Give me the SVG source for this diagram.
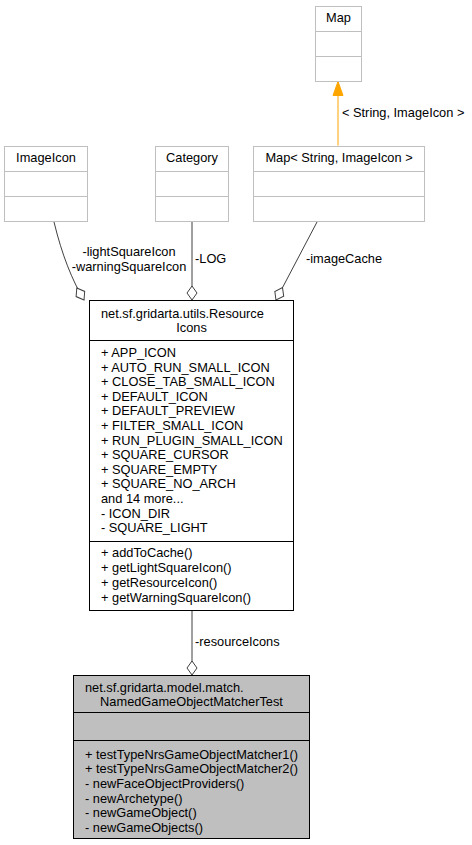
<svg xmlns="http://www.w3.org/2000/svg" width="472" height="845" viewBox="0 0 472 845">
<style>
text{font-family:"Liberation Sans",Arial,sans-serif;font-size:12.8px;fill:#000}
.ext{fill:#fff;stroke:#bfbfbf;stroke-width:1}
.cls{fill:#fff;stroke:#000;stroke-width:1}
.cur{fill:#bfbfbf;stroke:#000;stroke-width:1}
.edge{fill:none;stroke:#404040;stroke-width:1}
.inh{fill:none;stroke:#ffa500;stroke-width:1}
.c{text-anchor:middle}
</style>
<defs>
<marker id="diamond" markerUnits="userSpaceOnUse" markerWidth="16" markerHeight="12" refX="14" refY="5" orient="auto" viewBox="-1 -1 16 12">
<polygon points="0,5 7,0 14,5 7,10" fill="#fff" stroke="#404040" stroke-width="1"/>
</marker>
<marker id="tri" markerUnits="userSpaceOnUse" markerWidth="16" markerHeight="12" refX="14" refY="5" orient="auto" viewBox="-1 -1 16 12">
<polygon points="0,0 14,5 0,10" fill="#ffa500" stroke="#ffa500" stroke-width="1"/>
</marker>
</defs>
<g id="connectors">
<path class="inh" d="M338,145.5 L338,81.5" marker-end="url(#tri)"/>
<text x="342" y="117">&lt; String, ImageIcon &gt;</text>
<path class="edge" d="M54,222 C62,255 72,280 84,300" marker-end="url(#diamond)"/>
<text class="c" x="129" y="256">-lightSquareIcon</text>
<text class="c" x="129" y="271">-warningSquareIcon</text>
<path class="edge" d="M192,222 L192,300" marker-end="url(#diamond)"/>
<text x="195" y="263">-LOG</text>
<path class="edge" d="M317,222 L276,300" marker-end="url(#diamond)"/>
<text x="306" y="263">-imageCache</text>
<path class="edge" d="M192,611 L192,675" marker-end="url(#diamond)"/>
<text x="195" y="646">-resourceIcons</text>
</g>
<g id="node-map">
<rect class="ext" x="315.5" y="6.5" width="46" height="75"/>
<line class="ext" x1="315.5" y1="31.5" x2="361.5" y2="31.5"/>
<line class="ext" x1="315.5" y1="56.5" x2="361.5" y2="56.5"/>
<text class="c" x="338.5" y="22">Map</text>
</g>
<g id="node-imageicon">
<rect class="ext" x="4.5" y="146.5" width="83" height="75"/>
<line class="ext" x1="4.5" y1="171.5" x2="87.5" y2="171.5"/>
<line class="ext" x1="4.5" y1="196.5" x2="87.5" y2="196.5"/>
<text class="c" x="46" y="162">ImageIcon</text>
</g>
<g id="node-category">
<rect class="ext" x="155.5" y="146.5" width="73" height="75"/>
<line class="ext" x1="155.5" y1="171.5" x2="228.5" y2="171.5"/>
<line class="ext" x1="155.5" y1="196.5" x2="228.5" y2="196.5"/>
<text class="c" x="192" y="162">Category</text>
</g>
<g id="node-mapstring">
<rect class="ext" x="253.5" y="146.5" width="171" height="75"/>
<line class="ext" x1="253.5" y1="171.5" x2="424.5" y2="171.5"/>
<line class="ext" x1="253.5" y1="196.5" x2="424.5" y2="196.5"/>
<text class="c" x="339" y="162">Map&lt; String, ImageIcon &gt;</text>
</g>
<g id="node-resourceicons">
<rect class="cls" x="89.5" y="300.5" width="204" height="310"/>
<line class="cls" x1="89.5" y1="340.5" x2="293.5" y2="340.5"/>
<line class="cls" x1="89.5" y1="541.5" x2="293.5" y2="541.5"/>
<text x="101" y="318">net.sf.gridarta.utils.Resource</text>
<text class="c" x="191.5" y="332">Icons</text>
<text x="101" y="357">+ APP_ICON</text>
<text x="101" y="371.6">+ AUTO_RUN_SMALL_ICON</text>
<text x="101" y="386.2">+ CLOSE_TAB_SMALL_ICON</text>
<text x="101" y="400.8">+ DEFAULT_ICON</text>
<text x="101" y="415.4">+ DEFAULT_PREVIEW</text>
<text x="101" y="430">+ FILTER_SMALL_ICON</text>
<text x="101" y="444.6">+ RUN_PLUGIN_SMALL_ICON</text>
<text x="101" y="459.2">+ SQUARE_CURSOR</text>
<text x="101" y="473.8">+ SQUARE_EMPTY</text>
<text x="101" y="488.4">+ SQUARE_NO_ARCH</text>
<text x="101" y="503">and 14 more...</text>
<text x="101" y="517.6">- ICON_DIR</text>
<text x="101" y="532.2">- SQUARE_LIGHT</text>
<text x="101" y="557">+ addToCache()</text>
<text x="101" y="572">+ getLightSquareIcon()</text>
<text x="101" y="587">+ getResourceIcon()</text>
<text x="101" y="602">+ getWarningSquareIcon()</text>
</g>
<g id="node-test">
<rect class="cur" x="73.5" y="675.5" width="236" height="163"/>
<line class="cur" x1="73.5" y1="712.5" x2="309.5" y2="712.5"/>
<line class="cur" x1="73.5" y1="740.5" x2="309.5" y2="740.5"/>
<text x="85" y="692">net.sf.gridarta.model.match.</text>
<text class="c" x="191.5" y="705.5">NamedGameObjectMatcherTest</text>
<text x="85" y="758.5">+ testTypeNrsGameObjectMatcher1()</text>
<text x="85" y="773.2">+ testTypeNrsGameObjectMatcher2()</text>
<text x="85" y="787.9">- newFaceObjectProviders()</text>
<text x="85" y="802.6">- newArchetype()</text>
<text x="85" y="817.3">- newGameObject()</text>
<text x="85" y="832">- newGameObjects()</text>
</g>
</svg>
